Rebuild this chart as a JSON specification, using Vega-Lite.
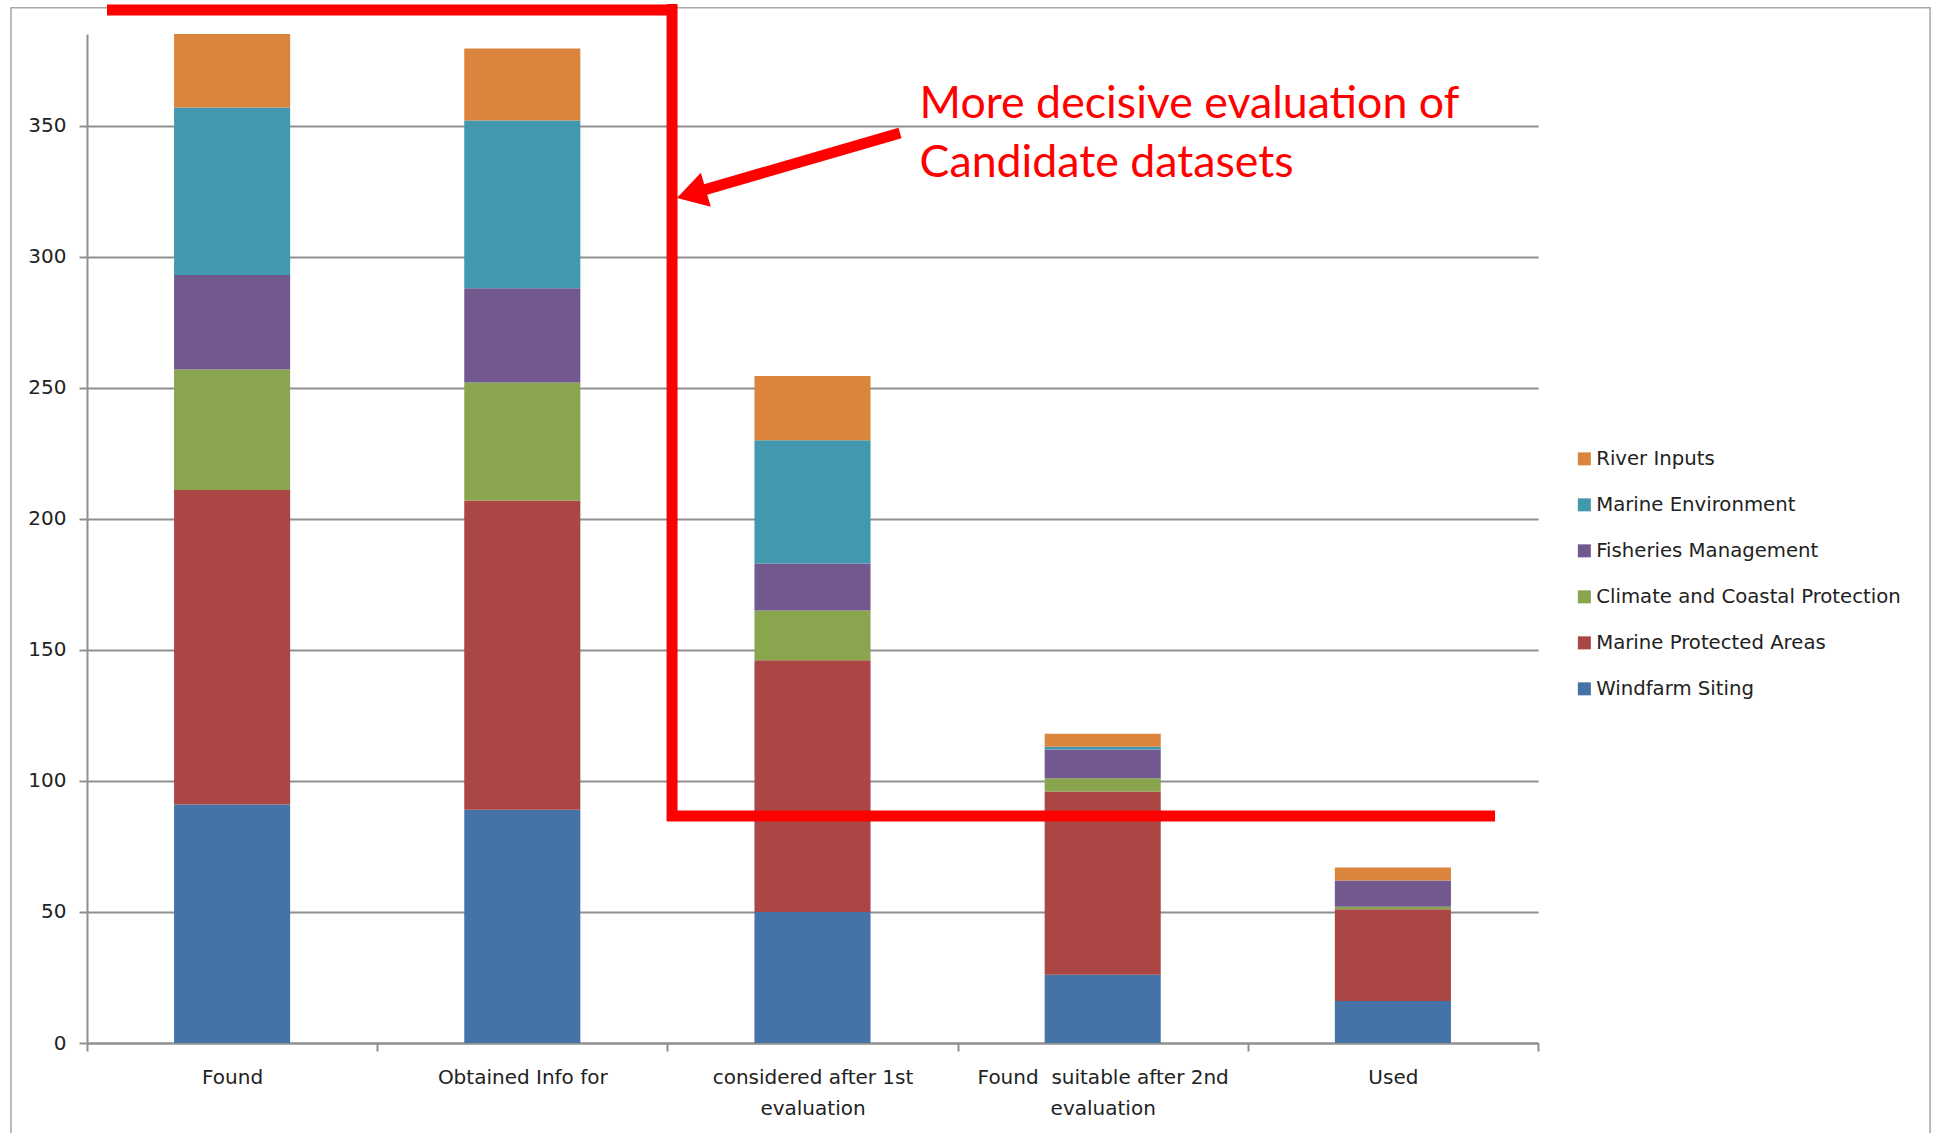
{
  "$schema": "https://vega.github.io/schema/vega-lite/v6.json",
  "width": 1451,
  "height": 1009,
  "autosize": "none",
  "padding": {"left": 87, "top": 34, "right": 396, "bottom": 90},
  "background": "white",
  "config": {"view": {"stroke": null}, "font": "DejaVu Sans"},
  "datasets": {
    "bars": [
      {"stage": "Found", "series": "Windfarm Siting", "count": 91},
      {"stage": "Found", "series": "Marine Protected Areas", "count": 120},
      {"stage": "Found", "series": "Climate and Coastal Protection", "count": 46},
      {"stage": "Found", "series": "Fisheries Management", "count": 36},
      {"stage": "Found", "series": "Marine Environment", "count": 64},
      {"stage": "Found", "series": "River Inputs", "count": 28},
      {"stage": "Obtained Info for", "series": "Windfarm Siting", "count": 89},
      {"stage": "Obtained Info for", "series": "Marine Protected Areas", "count": 118},
      {"stage": "Obtained Info for", "series": "Climate and Coastal Protection", "count": 45},
      {"stage": "Obtained Info for", "series": "Fisheries Management", "count": 36},
      {"stage": "Obtained Info for", "series": "Marine Environment", "count": 64},
      {"stage": "Obtained Info for", "series": "River Inputs", "count": 27.5},
      {"stage": "considered after 1st\nevaluation", "series": "Windfarm Siting", "count": 50},
      {"stage": "considered after 1st\nevaluation", "series": "Marine Protected Areas", "count": 96},
      {"stage": "considered after 1st\nevaluation", "series": "Climate and Coastal Protection", "count": 19},
      {"stage": "considered after 1st\nevaluation", "series": "Fisheries Management", "count": 18},
      {"stage": "considered after 1st\nevaluation", "series": "Marine Environment", "count": 47},
      {"stage": "considered after 1st\nevaluation", "series": "River Inputs", "count": 24.5},
      {"stage": "Found \u00a0suitable after 2nd\nevaluation", "series": "Windfarm Siting", "count": 26},
      {"stage": "Found \u00a0suitable after 2nd\nevaluation", "series": "Marine Protected Areas", "count": 70},
      {"stage": "Found \u00a0suitable after 2nd\nevaluation", "series": "Climate and Coastal Protection", "count": 5},
      {"stage": "Found \u00a0suitable after 2nd\nevaluation", "series": "Fisheries Management", "count": 11},
      {"stage": "Found \u00a0suitable after 2nd\nevaluation", "series": "Marine Environment", "count": 1},
      {"stage": "Found \u00a0suitable after 2nd\nevaluation", "series": "River Inputs", "count": 5},
      {"stage": "Used", "series": "Windfarm Siting", "count": 16},
      {"stage": "Used", "series": "Marine Protected Areas", "count": 35},
      {"stage": "Used", "series": "Climate and Coastal Protection", "count": 1},
      {"stage": "Used", "series": "Fisheries Management", "count": 10},
      {"stage": "Used", "series": "Marine Environment", "count": 0},
      {"stage": "Used", "series": "River Inputs", "count": 5}
    ],
    "frame": [{"x1": -0.2619, "x2": 6.351, "y1": 395.0, "y2": -37}],
    "segments": [
      {"x1": 0.069, "x2": 2.019, "y1": 394.2, "y2": 394.2},
      {"x1": 2.016, "x2": 2.016, "y1": 396.4, "y2": 84.7},
      {"x1": 1.999, "x2": 4.852, "y1": 86.6, "y2": 86.6},
      {"x1": 2.8015, "x2": 2.0986, "y1": 347.2, "y2": 324.6}
    ],
    "head": [{"x": 2.0331, "y": 322.4}],
    "notes": [
      {"x": 2.869, "y": 352.8, "text": "More decisive evaluation of"},
      {"x": 2.869, "y": 330.5, "text": "Candidate datasets"}
    ]
  },
  "layer": [
    {
      "data": {"name": "bars"},
      "transform": [
        {"calculate": "indexof(['Windfarm Siting','Marine Protected Areas','Climate and Coastal Protection','Fisheries Management','Marine Environment','River Inputs'], datum.series)", "as": "stackIndex"}
      ],
      "mark": {"type": "bar", "width": {"band": 0.4}},
      "encoding": {
        "x": {
          "field": "stage", "type": "nominal", "sort": null,
          "scale": {"paddingInner": 0, "paddingOuter": 0},
          "axis": {
            "title": null, "labelAngle": 0, "tickBand": "extent", "grid": false,
            "domainColor": "#8f8f8f", "domainWidth": 2,
            "tickColor": "#8f8f8f", "tickWidth": 2, "tickSize": 8,
            "labelFont": "DejaVu Sans", "labelFontSize": 20, "labelColor": "#222222",
            "labelPadding": 16, "labelLineHeight": 31, "labelLimit": 600,
            "labelExpr": "isValid(datum.value) ? split(datum.value, '\\n') : ''"
          }
        },
        "y": {
          "field": "count", "type": "quantitative", "aggregate": "sum",
          "scale": {"domain": [0, 385], "nice": false},
          "axis": {
            "title": null, "values": [0, 50, 100, 150, 200, 250, 300, 350],
            "grid": true, "gridColor": "#8f8f8f", "gridWidth": 2,
            "domainColor": "#8f8f8f", "domainWidth": 2,
            "tickColor": "#8f8f8f", "tickWidth": 2, "tickSize": 8,
            "labelFont": "DejaVu Sans", "labelFontSize": 20, "labelColor": "#222222",
            "labelPadding": 13
          }
        },
        "color": {
          "field": "series", "type": "nominal",
          "scale": {
            "domain": ["River Inputs", "Marine Environment", "Fisheries Management", "Climate and Coastal Protection", "Marine Protected Areas", "Windfarm Siting"],
            "range": ["#DB843D", "#4198AF", "#71588F", "#89A54E", "#AA4643", "#4572A7"]
          },
          "legend": {
            "orient": "none", "legendX": 1487.5, "legendY": 415, "title": null,
            "symbolType": "square", "symbolSize": 169, "symbolStrokeWidth": 0,
            "labelFont": "DejaVu Sans", "labelFontSize": 19.7, "labelColor": "#222222",
            "labelLimit": 600,
            "rowPadding": 25, "labelOffset": 2, "padding": 0
          }
        },
        "order": {"field": "stackIndex", "type": "quantitative", "sort": "ascending"}
      }
    },
    {
      "layer": [
        {
          "data": {"name": "frame"},
          "mark": {"type": "rect", "fill": null, "stroke": "#a6a6a6", "strokeWidth": 1.5},
          "encoding": {
            "x": {"field": "x1", "type": "quantitative", "scale": {"domain": [0, 5], "nice": false, "zero": false}, "axis": null},
            "x2": {"field": "x2"},
            "y": {"field": "y1", "type": "quantitative", "scale": {"domain": [0, 385], "nice": false}, "title": null},
            "y2": {"field": "y2"}
          }
        },
        {
          "data": {"name": "segments"},
          "mark": {"type": "rule", "stroke": "#FF0000", "strokeWidth": 11, "strokeCap": "butt"},
          "encoding": {
            "x": {"field": "x1", "type": "quantitative", "scale": {"domain": [0, 5], "nice": false, "zero": false}, "axis": null},
            "x2": {"field": "x2"},
            "y": {"field": "y1", "type": "quantitative", "scale": {"domain": [0, 385], "nice": false}, "title": null},
            "y2": {"field": "y2"}
          }
        },
        {
          "data": {"name": "head"},
          "mark": {"type": "point", "shape": "M0,0L1,-0.59L1,0.59Z", "size": 3600, "angle": 343.75, "filled": true, "fill": "#FF0000", "strokeWidth": 0, "opacity": 1},
          "encoding": {
            "x": {"field": "x", "type": "quantitative", "scale": {"domain": [0, 5], "nice": false, "zero": false}, "axis": null},
            "y": {"field": "y", "type": "quantitative", "scale": {"domain": [0, 385], "nice": false}, "title": null}
          }
        },
        {
          "data": {"name": "notes"},
          "mark": {"type": "text", "align": "left", "baseline": "alphabetic", "font": "Lato", "fontSize": 44.7, "fill": "#FF0000"},
          "encoding": {
            "x": {"field": "x", "type": "quantitative", "scale": {"domain": [0, 5], "nice": false, "zero": false}, "axis": null},
            "y": {"field": "y", "type": "quantitative", "scale": {"domain": [0, 385], "nice": false}, "title": null},
            "text": {"field": "text"}
          }
        }
      ]
    }
  ],
  "resolve": {"scale": {"x": "independent"}}
}
